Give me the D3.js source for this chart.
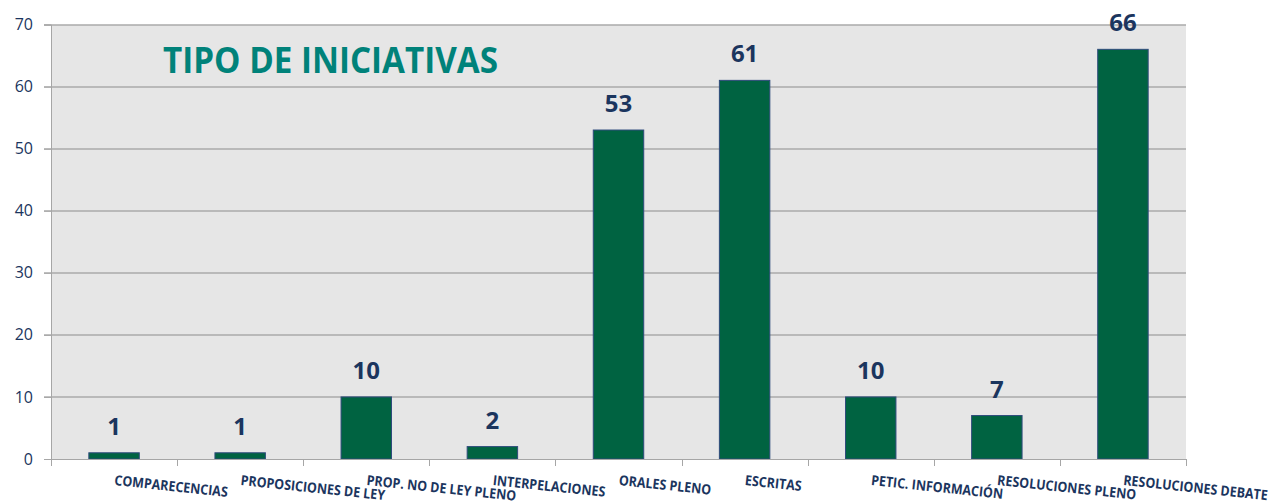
<!DOCTYPE html>
<html>
<head>
<meta charset="utf-8">
<script src="https://cdn.jsdelivr.net/npm/d3@7"></script>
<style>
  body { margin: 0; background: #fff; }
  svg { display: block; }
</style>
</head>
<body>
<div id="chart"></div>
<script>
  // Chart data
  var CATEGORIES = [
    'COMPARECENCIAS', 'PROPOSICIONES DE LEY', 'PROP. NO DE LEY PLENO',
    'INTERPELACIONES', 'ORALES PLENO', 'ESCRITAS',
    'PETIC. INFORMACIÓN', 'RESOLUCIONES PLENO', 'RESOLUCIONES DEBATE'
  ];
  var VALUES = [1, 1, 10, 2, 53, 61, 10, 7, 66];
  var Y_TICKS = [0, 10, 20, 30, 40, 50, 60, 70];
  var TITLE = 'TIPO DE INICIATIVAS';

  var W = 1272, H = 504;
  var margin = { top: 24.5, right: 86, bottom: 45, left: 51 };
  var width = W - margin.left - margin.right;
  var height = H - margin.top - margin.bottom;

  var NAVY = '#1b355e';
  var GRID = '#8c8c8c';

  var svg = d3.select('#chart').append('svg')
    .attr('width', W)
    .attr('height', H);

  var g = svg.append('g')
    .attr('transform', 'translate(' + margin.left + ',' + margin.top + ')');

  var x = d3.scaleBand()
    .domain(CATEGORIES)
    .range([0, width])
    .paddingInner(0.6)
    .paddingOuter(0.3);

  var y = d3.scaleLinear()
    .domain([0, 70])
    .range([height, 0]);

  // Plot background
  g.append('rect')
    .attr('x', 0).attr('y', 0)
    .attr('width', width).attr('height', height)
    .attr('fill', '#e6e6e6');

  // Gridlines
  g.selectAll('.grid')
    .data(Y_TICKS.filter(function (d) { return d > 0; }))
    .join('line')
    .attr('class', 'grid')
    .attr('x1', -7).attr('x2', width)
    .attr('y1', function (d) { return Math.round(y(d)) + 0.5; })
    .attr('y2', function (d) { return Math.round(y(d)) + 0.5; })
    .attr('stroke', GRID)
    .attr('stroke-width', 1);

  // Y axis
  var yAxis = d3.axisLeft(y)
    .tickValues(Y_TICKS)
    .tickSize(7)
    .tickPadding(11);
  var yg = g.append('g').call(yAxis);
  yg.select('.domain').attr('stroke', '#a6a6a6');
  yg.selectAll('.tick line').attr('stroke', '#a6a6a6');
  yg.selectAll('.tick text')
    .attr('fill', NAVY)
    .attr('font-family', 'Open Sans, sans-serif')
    .attr('font-size', '16px');

  // Bars
  g.selectAll('.bar')
    .data(VALUES)
    .join('rect')
    .attr('class', 'bar')
    .attr('x', function (d, i) { return x(CATEGORIES[i]); })
    .attr('y', function (d) { return y(d); })
    .attr('width', x.bandwidth())
    .attr('height', function (d) { return height - y(d); })
    .attr('fill', '#006341')
    .attr('stroke', '#2f4b7c')
    .attr('stroke-width', 1);

  // X axis (line + ticks at category edges)
  var step = x.step();
  var edges = CATEGORIES.map(function (c) { return x(c) + x.bandwidth() / 2 - step / 2; });
  edges.push(width);
  g.append('line')
    .attr('x1', 0).attr('x2', width)
    .attr('y1', height + 0.5).attr('y2', height + 0.5)
    .attr('stroke', '#a6a6a6');
  g.selectAll('.xtick')
    .data(edges)
    .join('line')
    .attr('class', 'xtick')
    .attr('x1', function (d) { return Math.round(d) + 0.5; })
    .attr('x2', function (d) { return Math.round(d) + 0.5; })
    .attr('y1', height).attr('y2', height + 7)
    .attr('stroke', '#a6a6a6');

  // X labels, slightly rotated and condensed
  g.selectAll('.xlabel')
    .data(CATEGORIES)
    .join('text')
    .attr('class', 'xlabel')
    .attr('transform', function (d) {
      return 'translate(' + (x(d) + x.bandwidth() / 2) + ',' + (height + 26) + ') rotate(6) scale(0.89,1)';
    })
    .attr('fill', NAVY)
    .attr('font-family', 'Open Sans, sans-serif')
    .attr('font-weight', 'bold')
    .attr('font-size', '14px')
    .text(function (d) { return d; });

  // Value labels
  g.selectAll('.vlabel')
    .data(VALUES)
    .join('text')
    .attr('class', 'vlabel')
    .attr('x', function (d, i) { return x(CATEGORIES[i]) + x.bandwidth() / 2; })
    .attr('y', function (d) { return y(d) - 18; })
    .attr('text-anchor', 'middle')
    .attr('fill', NAVY)
    .attr('font-family', 'Open Sans, sans-serif')
    .attr('font-weight', 'bold')
    .attr('font-size', '24px')
    .text(function (d) { return d; });

  // Title
  svg.append('text')
    .attr('x', 163)
    .attr('y', 73)
    .attr('fill', '#00827a')
    .attr('font-family', 'Open Sans, sans-serif')
    .attr('font-weight', 'bold')
    .attr('font-size', '35px')
    .attr('textLength', 335)
    .attr('lengthAdjust', 'spacingAndGlyphs')
    .text(TITLE);
</script>
</body>
</html>
